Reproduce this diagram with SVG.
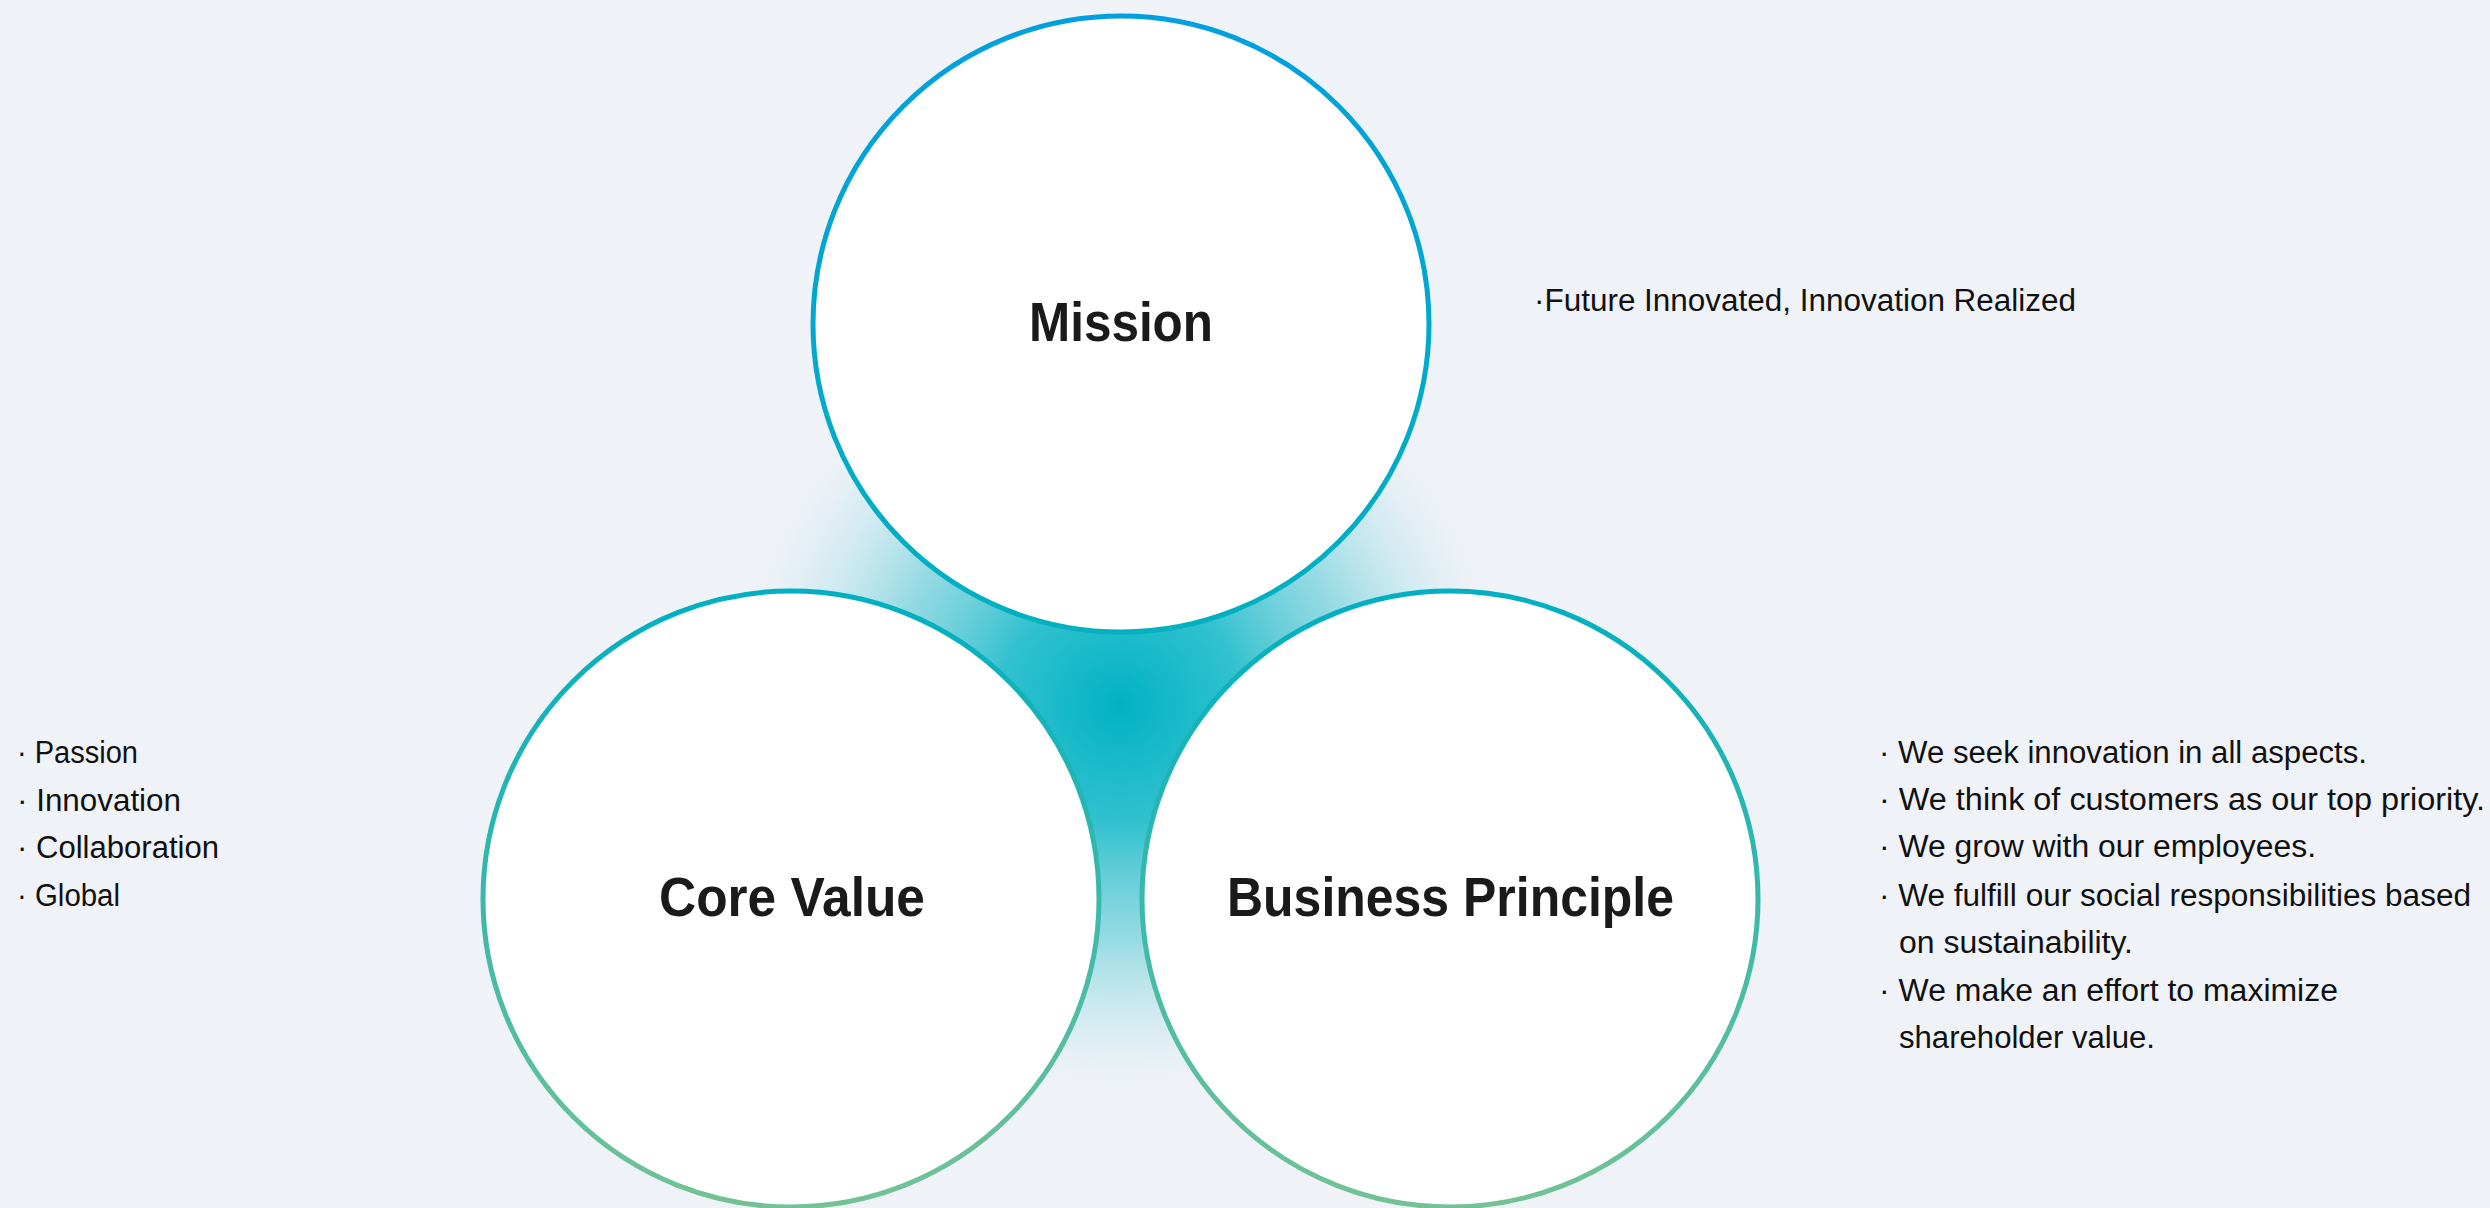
<svg xmlns="http://www.w3.org/2000/svg" width="2490" height="1208" viewBox="0 0 2490 1208">
  <defs>
    <linearGradient id="ring" gradientUnits="userSpaceOnUse" x1="0" y1="15" x2="0" y2="1208">
      <stop offset="0" stop-color="#00a0df"/>
      <stop offset="0.5" stop-color="#00b0c0"/>
      <stop offset="1" stop-color="#74c295"/>
    </linearGradient>
    <radialGradient id="glow" gradientUnits="userSpaceOnUse" cx="1120" cy="705" r="395">
      <stop offset="0" stop-color="#00b2c3" stop-opacity="1"/>
      <stop offset="0.3" stop-color="#1cbbca" stop-opacity="0.9"/>
      <stop offset="0.6" stop-color="#5ecbd7" stop-opacity="0.6"/>
      <stop offset="0.85" stop-color="#a8dfe8" stop-opacity="0.25"/>
      <stop offset="1" stop-color="#eff2f7" stop-opacity="0"/>
    </radialGradient>
    <style>
      .ring { fill: #ffffff; stroke: url(#ring); stroke-width: 5; }
      .title { font-family: "Liberation Sans", Arial, sans-serif; font-weight: bold; font-size: 56px; fill: #1a1a1a; }
      .body { font-family: "Liberation Sans", Arial, sans-serif; font-size: 31px; fill: #111111; }
    </style>
  </defs>
  <rect x="0" y="0" width="2490" height="1208" fill="#eff2f7"/>
  <circle cx="1120" cy="705" r="395" fill="url(#glow)"/>
  <g id="connectors"></g>
  <g id="mission">
    <circle class="ring" cx="1121" cy="324" r="308"/>
    <text class="title" x="1029" y="341" textLength="184" lengthAdjust="spacingAndGlyphs">Mission</text>
    <text class="body" x="1534" y="311" textLength="542" lengthAdjust="spacingAndGlyphs">·Future Innovated, Innovation Realized</text>
  </g>
  <g id="core-value">
    <circle class="ring" cx="791" cy="899" r="308"/>
    <text class="title" x="659" y="916" textLength="266" lengthAdjust="spacingAndGlyphs">Core Value</text>
    <text class="body" x="17" y="763" textLength="121" lengthAdjust="spacingAndGlyphs">· Passion</text>
    <text class="body" x="17" y="811" textLength="164" lengthAdjust="spacingAndGlyphs">· Innovation</text>
    <text class="body" x="17" y="858" textLength="202" lengthAdjust="spacingAndGlyphs">· Collaboration</text>
    <text class="body" x="17" y="906" textLength="103" lengthAdjust="spacingAndGlyphs">· Global</text>
  </g>
  <g id="business-principle">
    <circle class="ring" cx="1450" cy="899" r="308"/>
    <text class="title" x="1227" y="916" textLength="447" lengthAdjust="spacingAndGlyphs">Business Principle</text>
    <text class="body" x="1879" y="763" textLength="488" lengthAdjust="spacingAndGlyphs">· We seek innovation in all aspects.</text>
    <text class="body" x="1879" y="810" textLength="606" lengthAdjust="spacingAndGlyphs">· We think of customers as our top priority.</text>
    <text class="body" x="1879" y="857" textLength="437" lengthAdjust="spacingAndGlyphs">· We grow with our employees.</text>
    <text class="body" x="1879" y="906" textLength="592" lengthAdjust="spacingAndGlyphs">· We fulfill our social responsibilities based</text>
    <text class="body" x="1899" y="953" textLength="234" lengthAdjust="spacingAndGlyphs">on sustainability.</text>
    <text class="body" x="1879" y="1001" textLength="459" lengthAdjust="spacingAndGlyphs">· We make an effort to maximize</text>
    <text class="body" x="1899" y="1048" textLength="256" lengthAdjust="spacingAndGlyphs">shareholder value.</text>
  </g>
</svg>
